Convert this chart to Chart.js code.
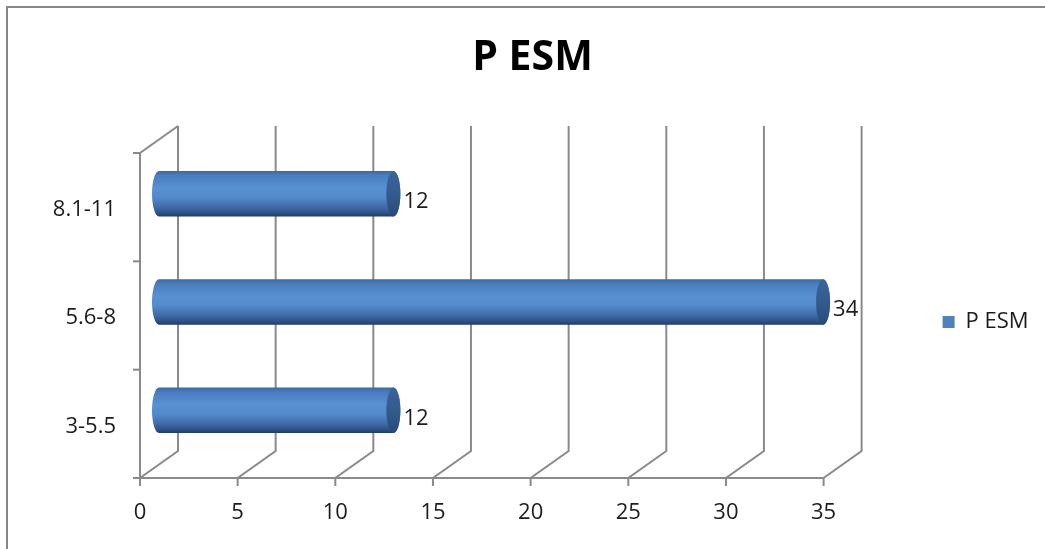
<!DOCTYPE html>
<html>
<head>
<meta charset="utf-8">
<script src="https://cdn.jsdelivr.net/npm/chart.js@4.4.1/dist/chart.umd.min.js"></script>
<style>
  html, body { margin: 0; padding: 0; background: #fff; }
  canvas { display: block; }
</style>
</head>
<body>
<canvas id="c" width="1045" height="549"></canvas>
<script>
// Chart data
const categories = ['3-5.5', '5.6-8', '8.1-11'];
const seriesName = 'P ESM';
const values = [12, 34, 12];
const xTicks = [0, 5, 10, 15, 20, 25, 30, 35];

// Perspective offset between the middle (bar) plane and the front / back planes
const DEPTH_X = 19;
const DEPTH_Y = 13.5;
const GRID_COLOR = '#8a8a8a';
const TEXT_COLOR = '#1c1c1c';
const FONT = "'Open Sans', 'Liberation Sans', sans-serif";

function strokePath(ctx, pts) {
  ctx.beginPath();
  ctx.moveTo(pts[0][0], pts[0][1]);
  for (let i = 1; i < pts.length; i++) ctx.lineTo(pts[i][0], pts[i][1]);
  ctx.stroke();
}

// Draws the 3-D floor, back wall, side wall and cylinder bars
const cylinder3d = {
  id: 'cylinder3d',
  beforeDraw(chart) {
    const { ctx, width, height } = chart;
    ctx.save();
    ctx.fillStyle = '#ffffff';
    ctx.fillRect(0, 0, width, height);
    ctx.strokeStyle = '#878787';
    ctx.lineWidth = 2;
    ctx.strokeRect(7, 7, width + 20, height + 20);
    ctx.restore();
  },
  beforeDatasetsDraw(chart) {
    const { ctx, chartArea: a, scales: { x, y } } = chart;
    ctx.save();
    ctx.strokeStyle = GRID_COLOR;
    ctx.lineWidth = 2;
    ctx.lineJoin = 'miter';

    const front = a.bottom + DEPTH_Y;
    const left = x.getPixelForValue(x.min) - DEPTH_X;
    const right = x.getPixelForValue(x.max) - DEPTH_X;

    // floor front edge
    strokePath(ctx, [[left - 7, front], [right, front]]);

    // value gridlines: floor diagonal + back wall vertical, with tick marks
    x.ticks.forEach(t => {
      const px = x.getPixelForValue(t.value);
      strokePath(ctx, [
        [px - DEPTH_X, front + 8],
        [px - DEPTH_X, front],
        [px + DEPTH_X, a.bottom - DEPTH_Y],
        [px + DEPTH_X, a.top - DEPTH_Y]
      ]);
    });

    // side wall front edge and top diagonal
    strokePath(ctx, [
      [left, front],
      [left, a.top + DEPTH_Y],
      [left + 2 * DEPTH_X, a.top - DEPTH_Y]
    ]);

    // category boundary ticks on the side wall
    for (let i = 0; i <= categories.length; i++) {
      const yb = y.getPixelForValue(i - 0.5) + DEPTH_Y;
      strokePath(ctx, [[left - 7, yb], [left, yb]]);
    }

    // cylinders
    const meta = chart.getDatasetMeta(0);
    const data = chart.data.datasets[0].data;
    meta.data.forEach((bar, i) => {
      const { x: xe, y: yc, base, height } = bar.getProps(['x', 'y', 'base', 'height'], true);
      const r = height / 2;
      const rx = 7;
      const g = ctx.createLinearGradient(0, yc - r, 0, yc + r);
      g.addColorStop(0.00, '#3c69a6');
      g.addColorStop(0.10, '#497dbf');
      g.addColorStop(0.38, '#5991d3');
      g.addColorStop(0.58, '#528acc');
      g.addColorStop(0.80, '#3e6ba6');
      g.addColorStop(0.93, '#2c5087');
      g.addColorStop(1.00, '#1f3b62');

      ctx.beginPath();
      ctx.moveTo(xe, yc - r);
      ctx.lineTo(base, yc - r);
      ctx.ellipse(base, yc, rx, r, 0, -Math.PI / 2, Math.PI / 2, true);
      ctx.lineTo(xe, yc + r);
      ctx.ellipse(xe, yc, rx, r, 0, Math.PI / 2, -Math.PI / 2, true);
      ctx.closePath();
      ctx.fillStyle = g;
      ctx.fill();

      const gc = ctx.createLinearGradient(0, yc - r, 0, yc + r);
      gc.addColorStop(0, '#3a649b');
      gc.addColorStop(0.5, '#345b8e');
      gc.addColorStop(1, '#284a78');
      ctx.beginPath();
      ctx.ellipse(xe, yc, rx, r, 0, 0, Math.PI * 2);
      ctx.fillStyle = gc;
      ctx.fill();

      // value label
      ctx.fillStyle = TEXT_COLOR;
      ctx.font = `22px ${FONT}`;
      ctx.textAlign = 'left';
      ctx.textBaseline = 'middle';
      ctx.fillText(String(data[i]), xe + 10, yc + 8);
    });

    ctx.restore();
    return false;
  }
};

const plotLeft = 159;
const plotRight = 842.6;
const plotBottom = 464.5;
const W = 1045, H = 549;
const padLeft = 20, padRight = 0;

new Chart(document.getElementById('c'), {
  type: 'bar',
  data: {
    labels: categories,
    datasets: [{
      label: seriesName,
      data: values,
      backgroundColor: '#4F81BD',
      borderWidth: 0,
      categoryPercentage: 1,
      barPercentage: 0.42
    }]
  },
  options: {
    indexAxis: 'y',
    responsive: false,
    devicePixelRatio: 1,
    animation: false,
    layout: { padding: { left: padLeft, right: padRight, top: 0, bottom: 0 } },
    scales: {
      x: {
        min: xTicks[0],
        max: xTicks[xTicks.length - 1],
        grid: { display: false, drawTicks: false },
        border: { display: false },
        ticks: {
          stepSize: xTicks[1] - xTicks[0],
          labelOffset: -DEPTH_X,
          padding: 35.5,
          color: TEXT_COLOR,
          font: { family: FONT, size: 22 },
          maxRotation: 0
        },
        afterFit(scale) {
          scale.height = H - plotBottom;
          scale.paddingLeft = 0;
          scale.paddingRight = W - padRight - plotRight;
        }
      },
      y: {
        reverse: true,
        grid: { display: false, drawTicks: false },
        border: { display: false },
        ticks: {
          labelOffset: 16,
          padding: 43,
          color: TEXT_COLOR,
          font: { family: FONT, size: 22 }
        },
        afterFit(scale) {
          scale.width = plotLeft - padLeft;
          scale.paddingTop = 0;
          scale.paddingBottom = 0;
        }
      }
    },
    plugins: {
      title: {
        display: true,
        text: seriesName,
        color: '#000000',
        font: { family: FONT, size: 41, weight: 'bold', lineHeight: 1.2 },
        padding: { top: 33.4, bottom: 56.9 }
      },
      legend: {
        display: true,
        position: 'right',
        fullSize: false,
        title: { display: true, text: '', font: { size: 10 }, padding: { top: 28, bottom: 0 } },
        labels: {
          boxWidth: 12,
          boxHeight: 12,
          padding: 100,
          color: TEXT_COLOR,
          font: { family: FONT, size: 22 }
        }
      },
      tooltip: { enabled: false }
    }
  },
  plugins: [cylinder3d]
});
</script>
</body>
</html>
